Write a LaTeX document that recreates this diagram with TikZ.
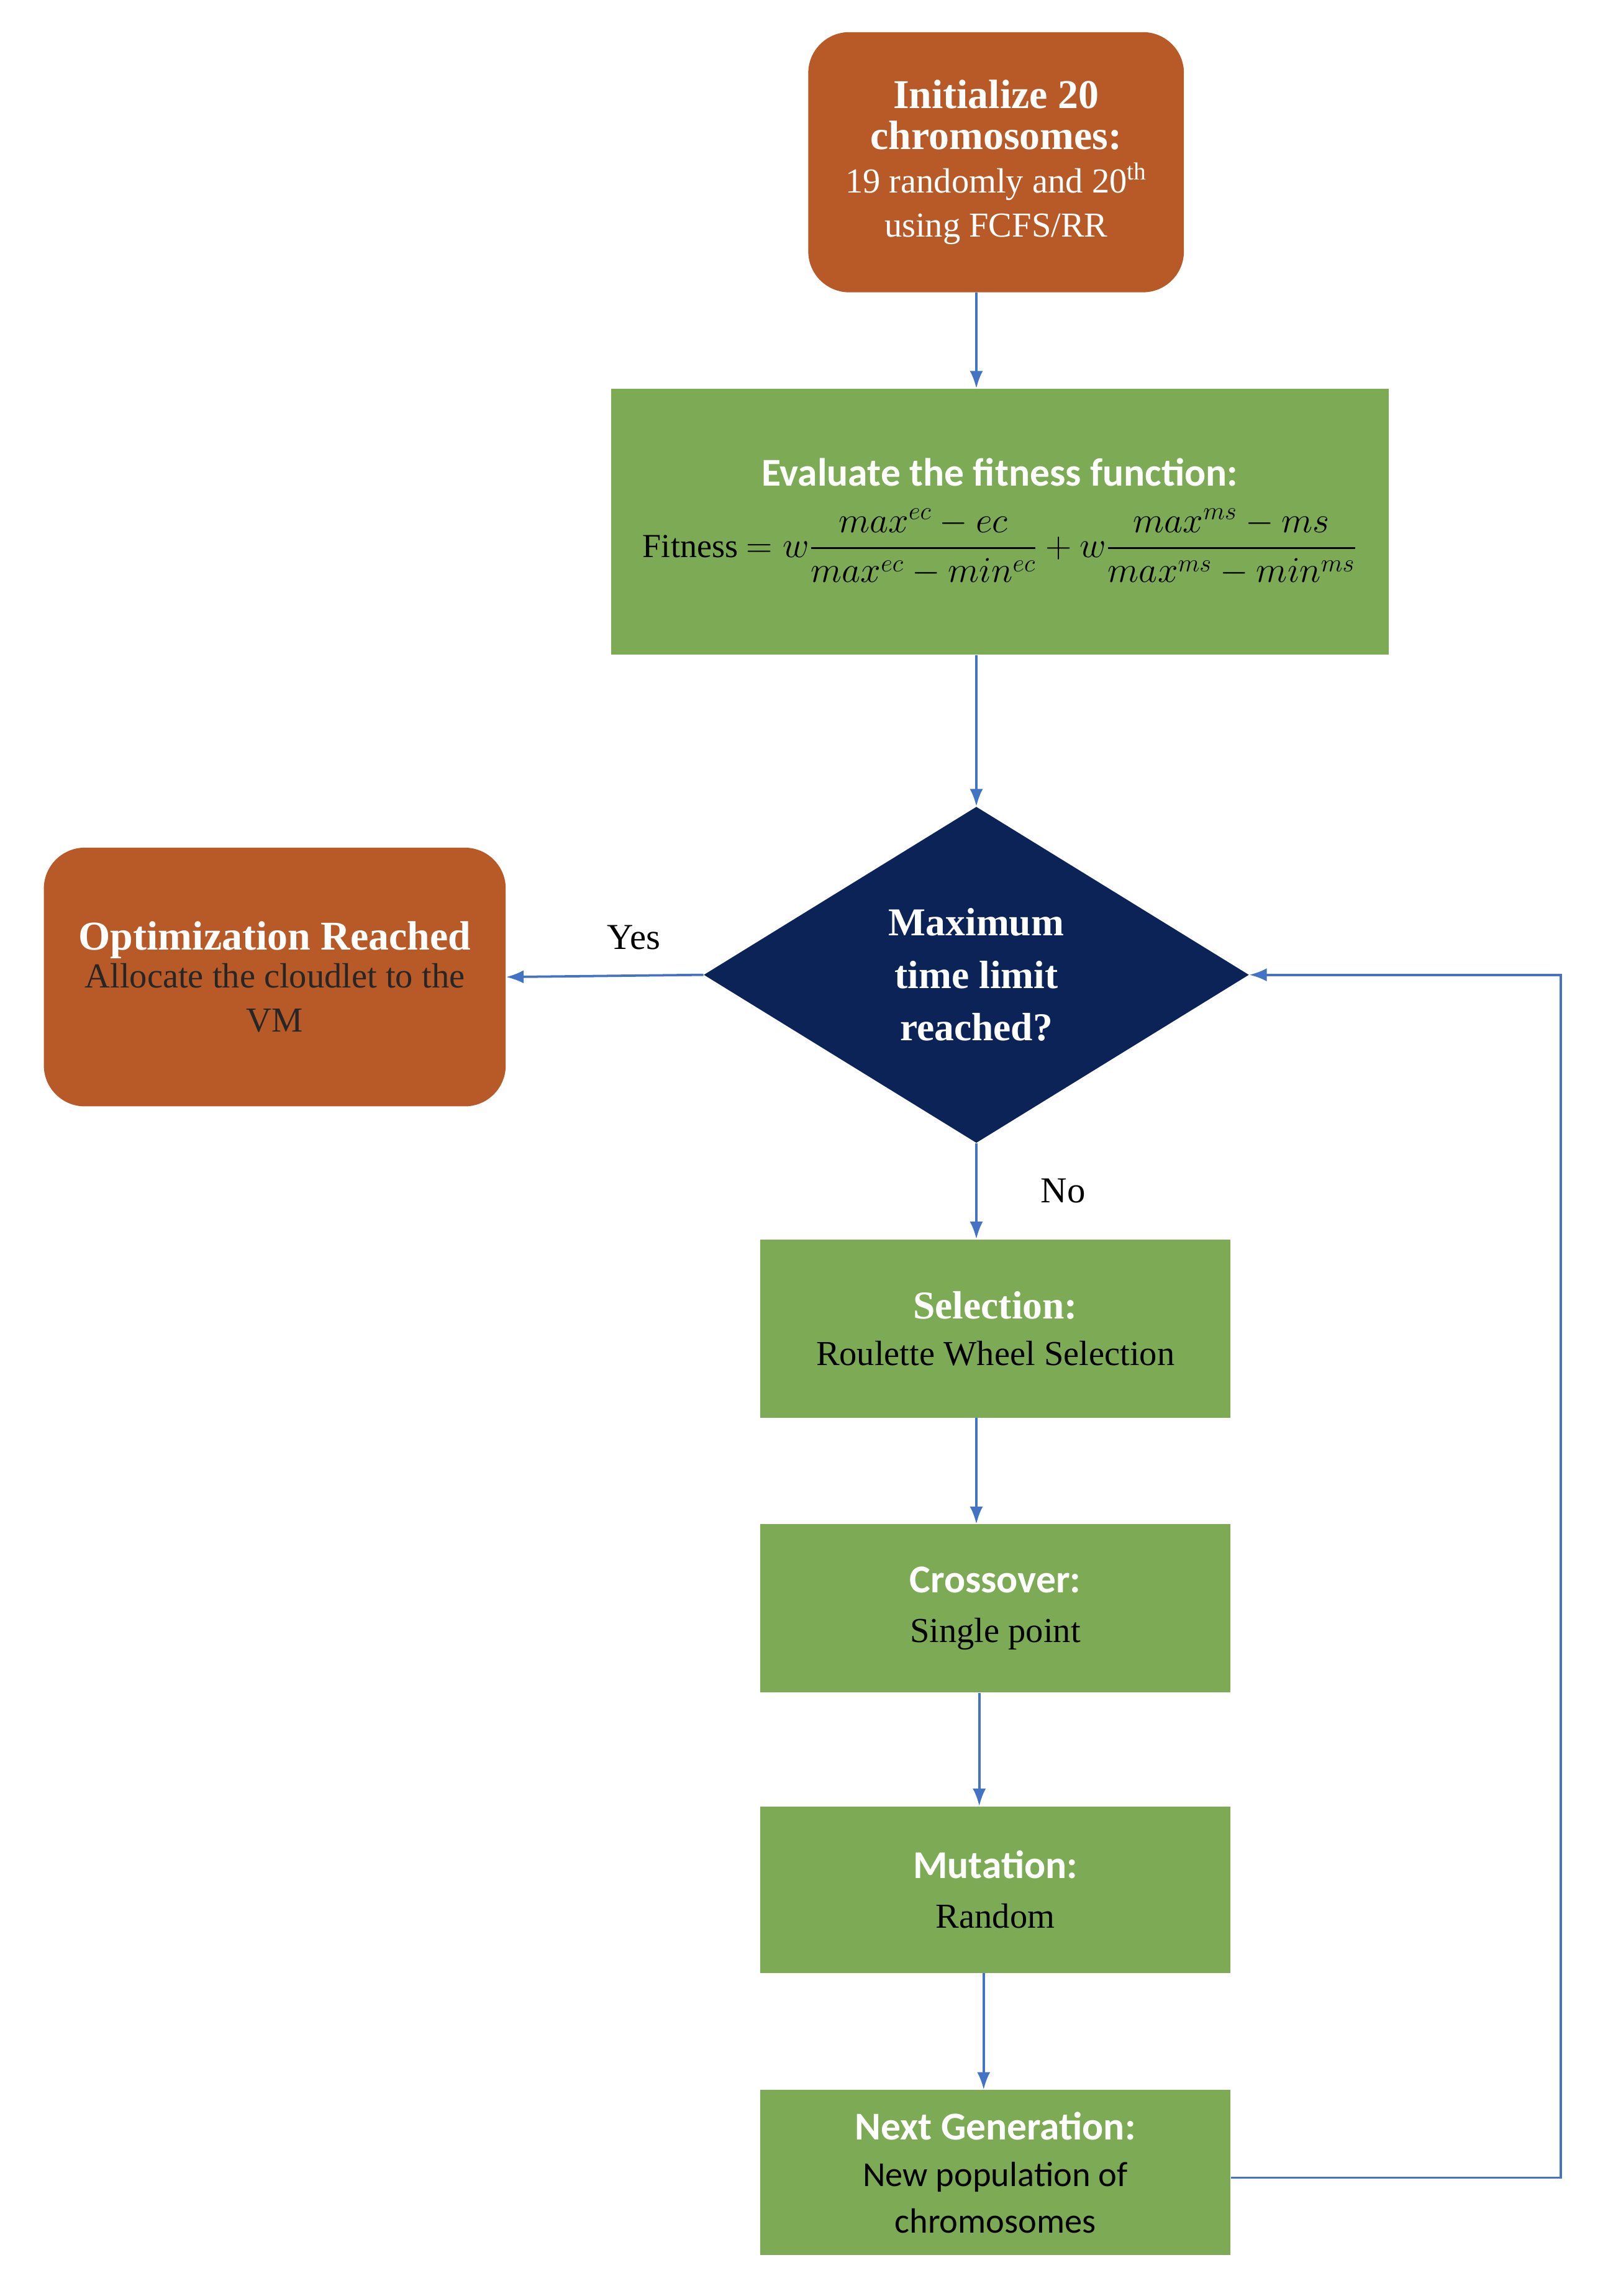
\documentclass[tikz,border=0pt]{standalone}
\usepackage{amsmath}
\usepackage{fontspec}
\setmainfont{Liberation Serif}
\newfontfamily\sansf{Carlito}
\usetikzlibrary{shapes.geometric,arrows.meta}
\definecolor{org}{HTML}{B85A27}
\definecolor{grn}{HTML}{7DAB55}
\definecolor{nvy}{HTML}{0C2357}
\definecolor{arr}{HTML}{4472C4}
\begin{document}
\begin{tikzpicture}[x=1pt,y=-1pt,
  obox/.style={fill=org,rounded corners=28pt,text=white,align=center,font=\fontsize{24}{30}\selectfont},
  gbox/.style={fill=grn,align=center,font=\fontsize{24}{32}\selectfont},
  ar/.style={draw=arr,line width=1.6pt,-{Latex[length=12pt,width=9pt]}}]
\useasboundingbox (0,0) rectangle (1100,1571);
\fill[white] (0,0) rectangle (1100,1571);
\node[obox,minimum width=257pt,minimum height=178pt] (init) at (681.5,111) {\textbf{\fontsize{28}{34}\selectfont Initialize 20}\\[-2pt]\textbf{\fontsize{28}{34}\selectfont chromosomes:}\\19 randomly and 20\textsuperscript{th}\\using FCFS/RR};
\node[gbox,minimum width=532pt,minimum height=182pt] (fit) at (684,357) {{\sansf\bfseries\color{white}\fontsize{27}{32}\selectfont Evaluate the fitness function:}\\[14pt]
{\fontsize{23}{28}\selectfont Fitness $= w\dfrac{max^{ec}-ec}{max^{ec}-min^{ec}}+w\dfrac{max^{ms}-ms}{max^{ms}-min^{ms}}$}};
\node[diamond,fill=nvy,text=white,minimum width=373pt,minimum height=230pt,inner sep=0pt,aspect=1.62,font=\bfseries\fontsize{27}{36}\selectfont,align=center] (dec) at (668,667) {Maximum\\time limit\\reached?};
\node[obox,minimum width=316pt,minimum height=177pt] (opt) at (188,668.5) {\textbf{\fontsize{28}{34}\selectfont Optimization Reached}\\[-4pt]\color{black!85}Allocate the cloudlet to the\\\color{black!85}VM};
\node[gbox,minimum width=322pt,minimum height=122pt] (sel) at (681,909) {{\color{white}\bfseries\fontsize{27}{34}\selectfont Selection:}\\Roulette Wheel Selection};
\node[gbox,minimum width=322pt,minimum height=115pt,font=\sansf\fontsize{25}{34}\selectfont] (cro) at (681,1100.5) {{\color{white}\bfseries\fontsize{27}{34}\selectfont Crossover:}\\{\rmfamily\fontsize{24}{30}\selectfont Single point}};
\node[gbox,minimum width=322pt,minimum height=114pt,font=\sansf\fontsize{25}{34}\selectfont] (mut) at (681,1293) {{\color{white}\bfseries\fontsize{27}{34}\selectfont Mutation:}\\{\rmfamily\fontsize{24}{30}\selectfont Random}};
\node[gbox,minimum width=322pt,minimum height=113pt,font=\sansf\fontsize{24}{32}\selectfont] (nxt) at (681,1486.5) {{\color{white}\bfseries\fontsize{27}{34}\selectfont Next Generation:}\\New population of\\chromosomes};
\draw[ar] (init.south -| 668,0) -- (fit.north -| 668,0);
\draw[ar] (fit.south -| 668,0) -- (dec.north);
\draw[ar] (dec.west) -- (opt.east) node[midway,above=14pt,xshift=20pt,font=\fontsize{25}{30}\selectfont]{Yes};
\draw[ar] (dec.south) -- (sel.north -| dec.south) node[midway,right=40pt,font=\fontsize{25}{30}\selectfont]{No};
\draw[ar] (sel.south -| 668,0) -- (cro.north -| 668,0);
\draw[ar] (cro.south -| 670,0) -- (mut.north -| 670,0);
\draw[ar] (mut.south -| 673,0) -- (nxt.north -| 673,0);
\coordinate (c1) at (1068,1490);
\coordinate (c2) at (1068,667);
\draw[ar] (nxt.east |- c1) -- (c1) -- (c2) -- (dec.east);
\end{tikzpicture}
\end{document}
